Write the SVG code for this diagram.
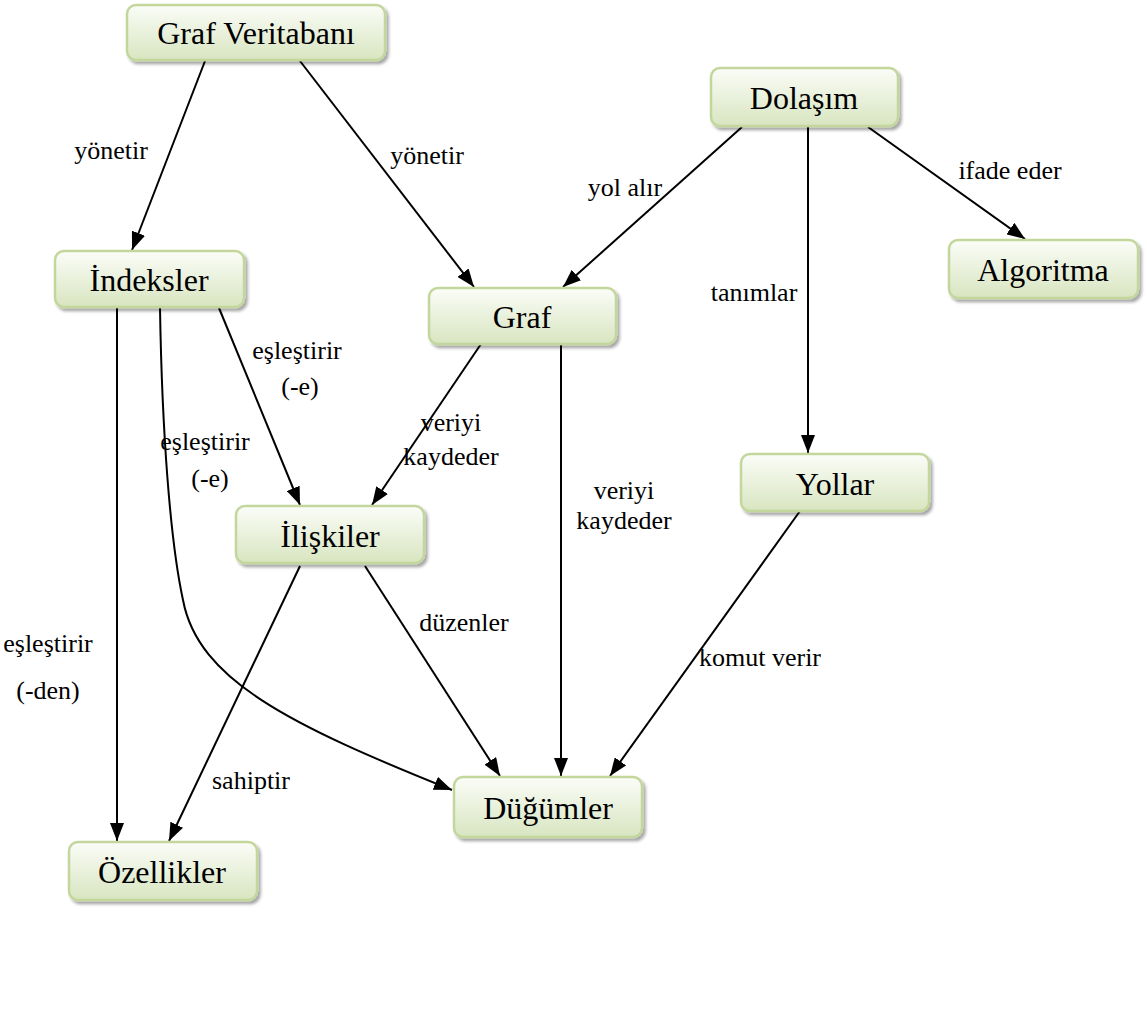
<svg xmlns="http://www.w3.org/2000/svg" width="1147" height="1017" viewBox="0 0 1147 1017">
<style>
.node rect{fill:url(#g);stroke:#c3d69b;stroke-width:2.5;filter:url(#sh)}
.node text{font-family:"Liberation Serif","Times New Roman",serif;font-size:32px;fill:#000;text-anchor:middle;dominant-baseline:central}
.conn path{fill:none;stroke:#000;stroke-width:2;marker-end:url(#ah)}
.lbl{font-family:"Liberation Serif","Times New Roman",serif;font-size:26px;fill:#000;text-anchor:middle;dominant-baseline:central}
</style>
<defs>
<linearGradient id="g" x1="0" y1="0" x2="0" y2="1">
<stop offset="0" stop-color="#fbfdf8"/>
<stop offset="1" stop-color="#d8e5c0"/>
</linearGradient>
<filter id="sh" x="-10%" y="-20%" width="120%" height="150%">
<feDropShadow dx="2.5" dy="3" stdDeviation="1.5" flood-color="#000" flood-opacity="0.35"/>
</filter>
<marker id="ah" viewBox="0 0 18 14" refX="18" refY="7" markerWidth="18" markerHeight="14" markerUnits="userSpaceOnUse" orient="auto">
<path d="M0,0 L18,7 L0,14 Z" fill="#000"/>
</marker>
</defs>
<rect width="1147" height="1017" fill="#fff"/>
<g id="connectors" class="conn">
<path d="M205,61 L132,250"/>
<path d="M300,61 L474,287"/>
<path d="M742,127 L563,287"/>
<path d="M808,127 L808,453"/>
<path d="M868,127 L1025,239"/>
<path d="M117,308 L117,841"/>
<path d="M160,308 C162,430 170,540 183,600 C198,680 290,725 452,790"/>
<path d="M219,308 L300,505"/>
<path d="M481,344 L372,505"/>
<path d="M561,344 L561,776"/>
<path d="M365,566 L500,776"/>
<path d="M300,566 L169,841"/>
<path d="M800,511 L610,776"/>
</g>
<g id="labels">
<text class="lbl" x="111" y="150">yönetir</text>
<text class="lbl" x="427" y="155">yönetir</text>
<text class="lbl" x="625" y="187">yol alır</text>
<text class="lbl" x="754" y="292">tanımlar</text>
<text class="lbl" x="1010" y="170">ifade eder</text>
<text class="lbl" x="48" y="643">eşleştirir</text>
<text class="lbl" x="48" y="690">(-den)</text>
<text class="lbl" x="205" y="441">eşleştirir</text>
<text class="lbl" x="210" y="478">(-e)</text>
<text class="lbl" x="297" y="350">eşleştirir</text>
<text class="lbl" x="300" y="386">(-e)</text>
<text class="lbl" x="451" y="422">veriyi</text>
<text class="lbl" x="451" y="456">kaydeder</text>
<text class="lbl" x="624" y="490">veriyi</text>
<text class="lbl" x="624" y="520">kaydeder</text>
<text class="lbl" x="464" y="622">düzenler</text>
<text class="lbl" x="251" y="780">sahiptir</text>
<text class="lbl" x="760" y="657">komut verir</text>
</g>
<g id="n-grafveritabani" class="node"><rect x="127" y="5" width="258" height="55" rx="9"/><text x="256" y="33">Graf Veritabanı</text></g>
<g id="n-dolasim" class="node"><rect x="711" y="68" width="187" height="58" rx="9"/><text x="804" y="98">Dolaşım</text></g>
<g id="n-indeksler" class="node"><rect x="55" y="251" width="189" height="56" rx="9"/><text x="149" y="280">İndeksler</text></g>
<g id="n-graf" class="node"><rect x="429" y="288" width="187" height="56" rx="9"/><text x="522" y="317">Graf</text></g>
<g id="n-algoritma" class="node"><rect x="949" y="240" width="189" height="58" rx="9"/><text x="1043" y="270">Algoritma</text></g>
<g id="n-yollar" class="node"><rect x="741" y="454" width="188" height="57" rx="9"/><text x="835" y="484">Yollar</text></g>
<g id="n-iliskiler" class="node"><rect x="236" y="506" width="188" height="57" rx="9"/><text x="330" y="536">İlişkiler</text></g>
<g id="n-dugumler" class="node"><rect x="454" y="777" width="188" height="60" rx="9"/><text x="548" y="808">Düğümler</text></g>
<g id="n-ozellikler" class="node"><rect x="69" y="842" width="188" height="58" rx="9"/><text x="162" y="872">Özellikler</text></g>
</svg>
